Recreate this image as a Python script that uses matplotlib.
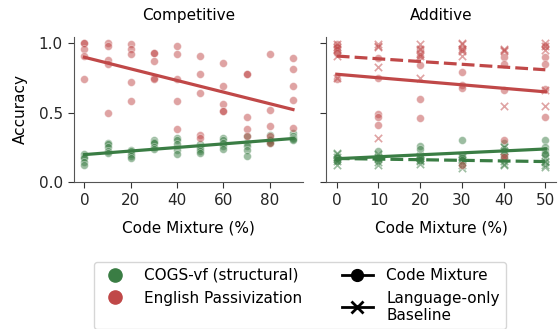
#
# Accuracy vs. code mixture, competitive and additive settings
#
import numpy as np
import matplotlib.pyplot as plt
from matplotlib.lines import Line2D

green = '#3a7d44'
red = '#c04848'

# Competitive setting: code mixture 0..90 %, five seeds each
comp_x = [0, 10, 20, 30, 40, 50, 60, 70, 80, 90]
comp_cogs = [
    [0.20, 0.18, 0.17, 0.14, 0.12],
    [0.28, 0.27, 0.25, 0.22, 0.21],
    [0.23, 0.22, 0.20, 0.19, 0.17],
    [0.30, 0.29, 0.28, 0.25, 0.24],
    [0.32, 0.30, 0.27, 0.23, 0.20],
    [0.27, 0.25, 0.24, 0.22, 0.21],
    [0.32, 0.30, 0.28, 0.26, 0.24],
    [0.33, 0.28, 0.26, 0.23, 0.19],
    [0.34, 0.31, 0.30, 0.29, 0.28],
    [0.35, 0.33, 0.32, 0.31, 0.30],
]
comp_passive = [
    [1.00, 1.00, 0.96, 0.91, 0.74],
    [1.00, 0.98, 0.88, 0.85, 0.50],
    [0.99, 0.96, 0.92, 0.72, 0.58],
    [0.93, 0.93, 0.87, 0.75, 0.74],
    [0.98, 0.92, 0.74, 0.58, 0.38],
    [0.91, 0.78, 0.64, 0.34, 0.32],
    [0.86, 0.69, 0.56, 0.51, 0.51],
    [0.78, 0.78, 0.47, 0.38, 0.33],
    [0.92, 0.52, 0.40, 0.33, 0.28],
    [0.89, 0.81, 0.69, 0.59, 0.39],
]

# Additive setting: code mixture 0..50 %, mixture runs and language-only baseline
add_x = [0, 10, 20, 30, 40, 50]
add_cogs = [
    [0.18, 0.17, 0.17, 0.16, 0.15],
    [0.22, 0.18, 0.18, 0.17, 0.16],
    [0.26, 0.24, 0.18, 0.17, 0.16],
    [0.30, 0.19, 0.18, 0.17, 0.16],
    [0.28, 0.24, 0.22, 0.20, 0.19],
    [0.30, 0.25, 0.23, 0.21, 0.20],
]
add_cogs_base = [
    [0.21, 0.20, 0.18, 0.15, 0.12],
    [0.20, 0.18, 0.17, 0.14, 0.12],
    [0.19, 0.175, 0.16, 0.15, 0.13],
    [0.18, 0.16, 0.14, 0.12, 0.10],
    [0.25, 0.22, 0.15, 0.13, 0.12],
    [0.17, 0.15, 0.14, 0.12, 0.11],
]
add_passive = [
    [0.99, 0.97, 0.95, 0.93, 0.74],
    [0.89, 0.75, 0.49, 0.47, 0.41],
    [0.96, 0.91, 0.84, 0.60, 0.46],
    [0.96, 0.79, 0.70, 0.68, 0.12],
    [0.90, 0.85, 0.66, 0.30, 0.18],
    [0.98, 0.90, 0.85, 0.67, 0.47],
]
add_passive_base = [
    [0.99, 0.97, 0.96, 0.91, 0.75],
    [0.99, 0.98, 0.97, 0.83, 0.32],
    [0.99, 0.96, 0.92, 0.91, 0.75],
    [1.00, 0.99, 0.96, 0.94, 0.91],
    [0.96, 0.95, 0.94, 0.55, 0.18],
    [1.00, 0.98, 0.95, 0.66, 0.55],
]


def scatter_fit(ax, xs, ys, color, marker, ls):
    """ Plot all seeds plus a least-squares line. """
    xs = np.asarray(xs, dtype=float)
    ys = np.asarray(ys)
    xx = np.repeat(xs, ys.shape[1])
    yy = ys.ravel()
    if marker == 'o':
        ax.scatter(xx, yy, s=32, color=color, alpha=0.5, edgecolor='white',
                   linewidth=0.5, zorder=2)
    else:
        ax.scatter(xx, yy, s=28, color=color, alpha=0.5, marker='x',
                   linewidth=1.2, zorder=2)
    k, b = np.polyfit(xx, yy, 1)
    ax.plot(xs[[0, -1]], k * xs[[0, -1]] + b, color=color, lw=2.3, ls=ls,
            zorder=3)


plt.rcParams['font.family'] = 'DejaVu Sans'
plt.rcParams['font.size'] = 11

fig, (ax1, ax2) = plt.subplots(1, 2, figsize=(5.58, 3.29), dpi=100,
                               sharey=True)
fig.subplots_adjust(left=0.1326, right=0.996, bottom=0.447, top=0.888,
                    wspace=0.1)

# 1. Competitive
scatter_fit(ax1, comp_x, comp_cogs, green, 'o', '-')
scatter_fit(ax1, comp_x, comp_passive, red, 'o', '-')
ax1.set_xlim(-4.5, 94.5)
ax1.set_xticks([0, 20, 40, 60, 80])
ax1.set_title('Competitive', fontsize=11, pad=12)
ax1.set_ylabel('Accuracy', fontsize=11, labelpad=8)

# 2. Additive
scatter_fit(ax2, add_x, add_cogs, green, 'o', '-')
scatter_fit(ax2, add_x, add_cogs_base, green, 'x', (0, (4, 1.6)))
scatter_fit(ax2, add_x, add_passive, red, 'o', '-')
scatter_fit(ax2, add_x, add_passive_base, red, 'x', (0, (4, 1.6)))
ax2.set_xlim(-2.5, 52.5)
ax2.set_xticks(add_x)
ax2.set_title('Additive', fontsize=11, pad=12)

for ax in (ax1, ax2):
    ax.set_ylim(0, 1.045)
    ax.set_yticks([0, 0.5, 1.0])
    ax.set_xlabel('Code Mixture (%)', fontsize=11, labelpad=9)
    ax.tick_params(labelsize=11, length=4.5, color='#333333',
                   labelcolor='#262626')
    ax.spines[['right', 'top']].set_visible(False)
    ax.spines[['left', 'bottom']].set_color('#555555')
ax2.tick_params(labelleft=False)

handles = [
    Line2D([], [], ls='', marker='o', ms=9.5, color=green),
    Line2D([], [], ls='', marker='o', ms=9.5, color=red),
    Line2D([], [], color='black', lw=2, marker='o', ms=8.5),
    Line2D([], [], color='black', lw=2, marker='x', ms=8.5, mew=2),
]
labels = ['COGS-vf (structural)', 'English Passivization', 'Code Mixture',
          'Language-only\nBaseline']
fig.legend(handles, labels, ncol=2, loc='upper left',
           bbox_to_anchor=(0.168, 0.204), borderaxespad=0, fontsize=11,
           frameon=True, fancybox=True, edgecolor='#cccccc',
           columnspacing=2.6, handletextpad=0.9, borderpad=0.4,
           labelspacing=0.5)

fig.savefig('out.png', dpi=100)
